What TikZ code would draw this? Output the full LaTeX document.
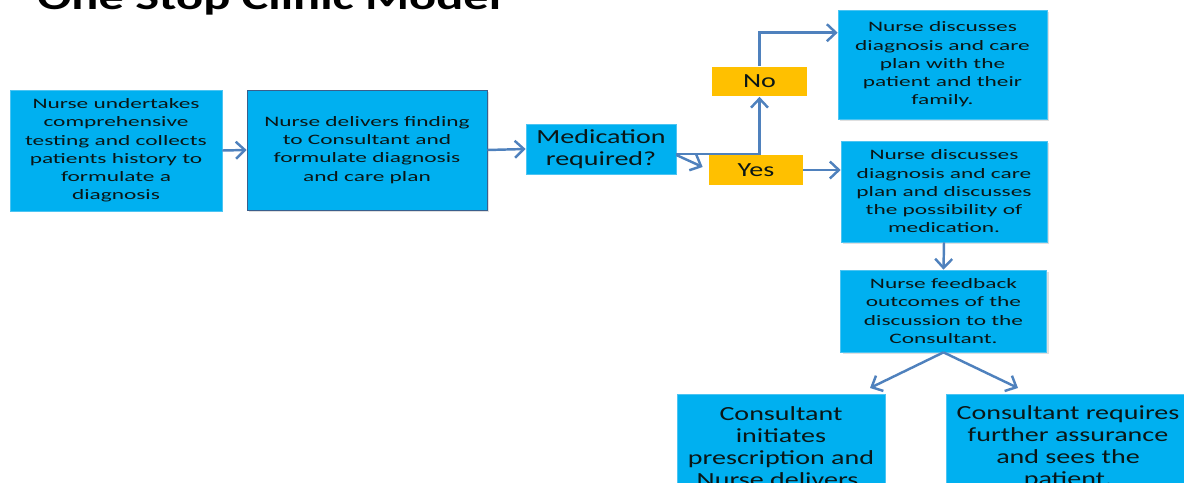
\documentclass[tikz,border=0pt]{standalone}
\usepackage{fontspec}
\setmainfont{Carlito}
\newfontfamily\boxfont[FakeStretch=1.62]{Carlito}
\newfontfamily\bigfont[FakeStretch=1.4]{Carlito}
\usetikzlibrary{arrows.meta,shadows,calc}
\definecolor{cboxblue}{HTML}{00B0F0}
\definecolor{cedge}{HTML}{4CC4F2}
\definecolor{cdark}{HTML}{3A5F8C}
\definecolor{carrow}{HTML}{4F81BD}
\definecolor{clabel}{HTML}{FFC000}
\definecolor{ctext}{HTML}{0A1616}
\tikzset{
  smallbox/.style={draw=cedge,fill=cboxblue,align=center,inner sep=0pt,text=ctext,
    font=\boxfont\fontsize{8.2}{10.4}\selectfont},
  bigbox/.style={draw=cedge,fill=cboxblue,align=center,inner sep=0pt,text=ctext,
    font=\bigfont\fontsize{11.4}{12.5}\selectfont},
  answer/.style={fill=clabel,align=center,inner sep=0pt,text=ctext,
    font=\bigfont\fontsize{11.4}{12.5}\selectfont},
  softshadow/.style={drop shadow={opacity=0.25,shadow xshift=1.2pt,shadow yshift=-1.2pt}},
  flow/.style={carrow,line width=1.4pt,-{Straight Barb[length=1.8mm,width=3.4mm]}}
}

\begin{document}
\begin{tikzpicture}[x=0.02cm,y=-0.02cm]
  \useasboundingbox (0,0) rectangle (1184,483);
  \node[anchor=base west,inner sep=0pt,font=\bigfont\bfseries\fontsize{20.5}{24}\selectfont] (title) at (37,10) {One Stop Clinic  Model};

  \node[smallbox,minimum width=4.24cm,minimum height=2.42cm] (nurseTest) at (116,150.5)
    {Nurse undertakes\\comprehensive\\testing and collects\\patients history  to\\formulate  a\\diagnosis};
  \node[smallbox,draw=cdark,softshadow,minimum width=4.8cm,minimum height=2.4cm] (nurseDeliver) at (367,150)
    {Nurse delivers finding\\to Consultant and\\formulate  diagnosis\\and care  plan};
  \node[bigbox,minimum width=3.0cm,minimum height=1.0cm] (medReq) at (601,149)
    {Medication\\required?};
  \node[answer,minimum width=1.9cm,minimum height=0.6cm] (noLbl) at (759.5,81.5) {No};
  \node[answer,minimum width=1.88cm,minimum height=0.6cm] (yesLbl) at (756,170) {Yes};
  \node[smallbox,softshadow,minimum width=4.18cm,minimum height=2.18cm] (discussNo) at (942.5,64.5)
    {Nurse discusses\\diagnosis and  care\\plan  with  the\\patient and  their\\family.};
  \node[smallbox,softshadow,minimum width=4.12cm,minimum height=2.02cm] (discussYes) at (944,191.5)
    {Nurse discusses\\diagnosis and  care\\plan  and discusses\\the possibility of\\medication.};
  \node[smallbox,softshadow,minimum width=4.12cm,minimum height=1.64cm] (feedback) at (943.5,311)
    {Nurse feedback\\outcomes of the\\discussion to the\\Consultant.};
  \node[bigbox,minimum width=4.16cm,minimum height=2.12cm] (consInit) at (781,447)
    {Consultant\\initiates\\prescription and\\Nurse delivers.};
  \node[bigbox,minimum width=4.88cm,minimum height=2.12cm] (consReq) at (1068,447)
    {Consultant requires\\further assurance\\and sees the\\patient.};

  \coordinate (toInit) at (870,388);
  \coordinate (toReq) at (1018,388);

  \draw[flow] (nurseTest.east) -- (nurseDeliver.west);
  \draw[flow] (nurseDeliver.east) -- (medReq.west);
  \draw[flow] ($(medReq.east)+(0,5)$) -| (noLbl.south);
  \draw[flow] ($(medReq.east)+(0,6)$) -- ($(yesLbl.west)+(-6,-3)$);
  \draw[flow] (noLbl.north) |- ($(discussNo.north west)!0.21!(discussNo.south west)$);
  \draw[flow] (yesLbl.east) -- (yesLbl.east -| discussYes.west);
  \draw[flow] (discussYes.south) -- (feedback.north);
  \draw[flow] (feedback.south) -- (toInit);
  \draw[flow] (feedback.south) -- (toReq);
\end{tikzpicture}
\end{document}
